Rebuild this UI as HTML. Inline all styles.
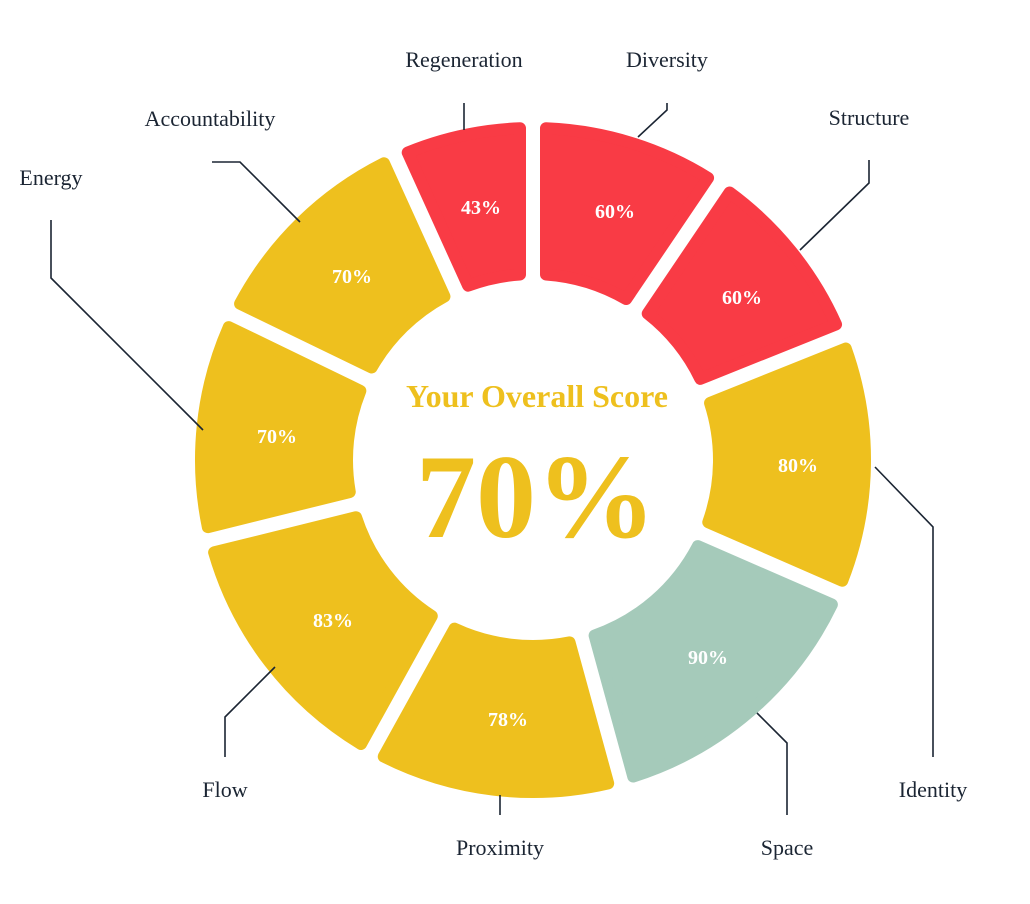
<!DOCTYPE html>
<html><head><meta charset="utf-8"><style>
html,body{margin:0;padding:0;background:#fff;}
svg{display:block;}
text{font-family:"Liberation Serif",serif;}
</style></head><body>
<svg id="s" width="1030" height="904" viewBox="0 0 1030 904" xmlns="http://www.w3.org/2000/svg">
<g id="segs"></g>
<g stroke="#1b2533" stroke-width="1.6" fill="none">
<polyline points="464,103 464,130"/>
<polyline points="667,103 667,110 638,137"/>
<polyline points="869,160 869,183 800,250"/>
<polyline points="212,162 240,162 300,222"/>
<polyline points="51,220 51,278 203,430"/>
<polyline points="933,757 933,527 875,467"/>
<polyline points="787,815 787,743 757,713"/>
<polyline points="500,815 500,795"/>
<polyline points="225,757 225,717 275,667"/>
</g>
<g font-size="22" fill="#1b2533" text-anchor="middle">
<text x="464" y="67">Regeneration</text>
<text x="667" y="67">Diversity</text>
<text x="869" y="125">Structure</text>
<text x="210" y="126">Accountability</text>
<text x="51" y="185">Energy</text>
<text x="933" y="797">Identity</text>
<text x="787" y="855">Space</text>
<text x="500" y="855">Proximity</text>
<text x="225" y="797">Flow</text>
</g>
<g font-size="20" fill="#fff" text-anchor="middle" font-weight="600">
<text x="481" y="214">43%</text>
<text x="615" y="218">60%</text>
<text x="742" y="304">60%</text>
<text x="798" y="472">80%</text>
<text x="708" y="664">90%</text>
<text x="508" y="726">78%</text>
<text x="333" y="627">83%</text>
<text x="277" y="443">70%</text>
<text x="352" y="283">70%</text>
</g>
<text x="537" y="407" font-size="32" font-weight="bold" fill="#eec01e" text-anchor="middle">Your Overall Score</text>
<text x="536" y="537" font-size="120" font-weight="bold" fill="#eec01e" text-anchor="middle">70%</text>
</svg>
<script>
var cx=533,cy=460,ri=180,ro=338,d=13,sw=12;
var vals=[["#f93b45",60],["#f93b45",60],["#eec01e",80],["#a5caba",90],["#eec01e",78],["#eec01e",83],["#eec01e",70],["#eec01e",70],["#f93b45",43]];
var tot=0;vals.forEach(v=>tot+=v[1]);
function pt(a,r){return [cx+r*Math.sin(a),cy-r*Math.cos(a)];}
function cornerAng(th,r,dd,s){return th+s*Math.asin(dd/r);}
var g=document.getElementById('segs'),a=0,h='';
vals.forEach(v=>{
 var w=v[1]/tot*2*Math.PI,a1=a,a2=a+w;a=a2;
 var r1=ri+sw/2,r2=ro-sw/2;
 var p1=pt(cornerAng(a1,r2,d,1),r2),p2=pt(cornerAng(a2,r2,d,-1),r2),
     p3=pt(cornerAng(a2,r1,d,-1),r1),p4=pt(cornerAng(a1,r1,d,1),r1);
 var path='M'+p1+' A'+r2+' '+r2+' 0 0 1 '+p2+' L'+p3+' A'+r1+' '+r1+' 0 0 0 '+p4+' Z';
 h+='<path d="'+path+'" fill="'+v[0]+'" stroke="'+v[0]+'" stroke-width="'+sw+'" stroke-linejoin="round"/>';
});
g.innerHTML=h;
</script>
</body></html>
